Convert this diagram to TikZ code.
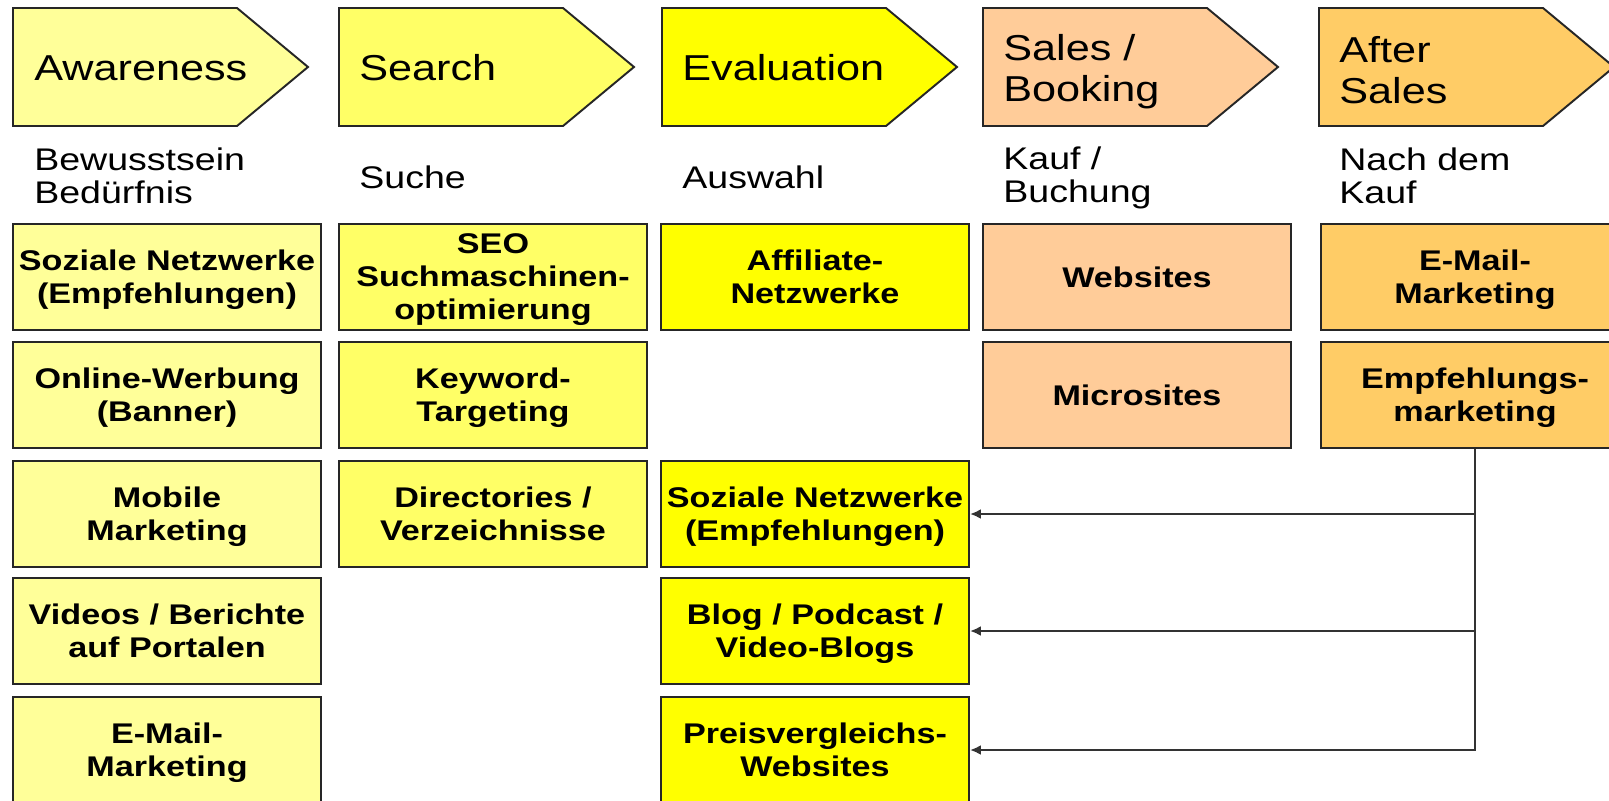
\documentclass[tikz,border=0pt]{standalone}
\usepackage{fontspec}
\setmainfont[FakeStretch=1.2]{Liberation Sans}
\usetikzlibrary{arrows.meta}
\definecolor{awcol}{HTML}{FFFF99}
\definecolor{secol}{HTML}{FFFF66}
\definecolor{evcol}{HTML}{FFFF00}
\definecolor{sacol}{HTML}{FFCC99}
\definecolor{afcol}{HTML}{FFCC66}
\def\phase{-- ++(224,0) -- ++(71,59) -- ++(-71,59) -- ++(-224,0) -- cycle}
\def\dphase{\draw[draw=black!85,line width=1.1pt]}

\begin{document}
\begin{tikzpicture}[x=0.02cm,y=-0.02cm,
    box/.style={draw=black!85,line width=1.1pt,minimum width=6.16cm,minimum height=2.12cm,
        inner sep=0pt,text depth=0pt,align=center,font=\bfseries\fontsize{16.2}{18.8}\selectfont},
    phasetext/.style={anchor=west,align=left,inner sep=0pt,font=\fontsize{20.5}{23.3}\selectfont},
    subtext/.style={anchor=west,align=left,inner sep=0pt,font=\fontsize{17.8}{18.8}\selectfont},
    link/.style={draw=black!80,line width=1.3pt,-{Latex[length=0.22cm,width=0.2cm]}}]
    \clip (0,0) rectangle (1609,801);
    % phases
    \dphase[fill=awcol] (13,8) \phase;
    \dphase[fill=secol] (339,8) \phase;
    \dphase[fill=evcol] (662,8) \phase;
    \dphase[fill=sacol] (983,8) \phase;
    \dphase[fill=afcol] (1319,8) \phase;
    \node[phasetext] (aware)  at (34,68)   {Awareness};
    \node[phasetext] (search) at (359,68)  {Search};
    \node[phasetext] (eval)   at (682,68)  {Evaluation};
    \node[phasetext] (sales)  at (1003,72) {Sales /\\Booking};
    \node[phasetext] (after)  at (1339,70) {After\\Sales};
    % german subtitles
    \node[subtext] (awareS)  at (34,176)   {Bewusstsein\\Bedürfnis};
    \node[subtext] (searchS) at (359,177)  {Suche};
    \node[subtext] (evalS)   at (682,177)  {Auswahl};
    \node[subtext] (salesS)  at (1003,178) {Kauf /\\Buchung};
    \node[subtext] (afterS)  at (1339,176) {Nach dem\\Kauf};
    % channels
    \node[box,fill=awcol] (aw1) at (167,277) {Soziale Netzwerke\\(Empfehlungen)};
    \node[box,fill=awcol] (aw2) at (167,395) {Online-Werbung\\(Banner)};
    \node[box,fill=awcol] (aw3) at (167,514) {Mobile\\Marketing};
    \node[box,fill=awcol] (aw4) at (167,631) {Videos / Berichte\\auf Portalen};
    \node[box,fill=awcol] (aw5) at (167,750) {E-Mail-\\Marketing};
    \node[box,fill=secol] (se1) at (493,277) {SEO\\Suchmaschinen-\\optimierung};
    \node[box,fill=secol] (se2) at (493,395) {Keyword-\\Targeting};
    \node[box,fill=secol] (se3) at (493,514) {Directories /\\Verzeichnisse};
    \node[box,fill=evcol] (ev1) at (815,277) {Affiliate-\\Netzwerke};
    \node[box,fill=evcol] (ev3) at (815,514) {Soziale Netzwerke\\(Empfehlungen)};
    \node[box,fill=evcol] (ev4) at (815,631) {Blog / Podcast /\\Video-Blogs};
    \node[box,fill=evcol] (ev5) at (815,750) {Preisvergleichs-\\Websites};
    \node[box,fill=sacol] (sa1) at (1137,277) {Websites};
    \node[box,fill=sacol] (sa2) at (1137,395) {Microsites};
    \node[box,fill=afcol] (af1) at (1475,277) {E-Mail-\\Marketing};
    \node[box,fill=afcol] (af2) at (1475,395) {Empfehlungs-\\marketing};
    % feedback of recommendations
    \draw[link] (af2.south) -- (af2.south |- ev5.east) -- (ev5.east);
    \draw[link] (af2.south |- ev3.east) -- (ev3.east);
    \draw[link] (af2.south |- ev4.east) -- (ev4.east);
\end{tikzpicture}
\end{document}
